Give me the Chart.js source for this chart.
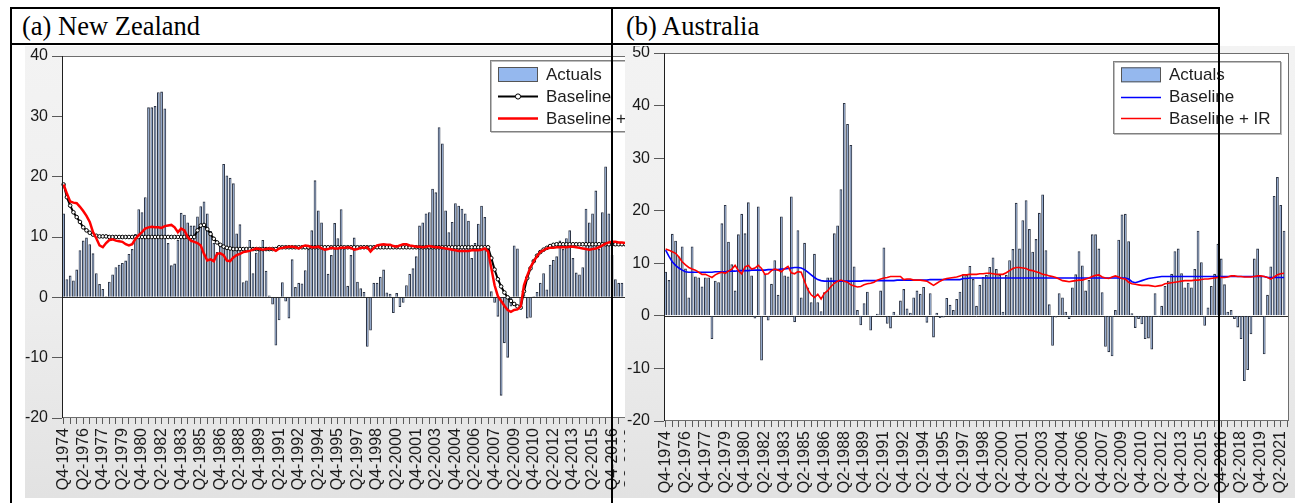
<!DOCTYPE html>
<html>
<head>
<meta charset="utf-8">
<script src="https://cdn.jsdelivr.net/npm/chart.js@4.4.1/dist/chart.umd.min.js"></script>
<style>
  html, body { margin: 0; padding: 0; background: #fff; }
  #page { position: relative; width: 1295px; height: 503px; overflow: hidden; background: #fff; }
  .panel { position: absolute; top: 46px; height: 452px;
           background: linear-gradient(to bottom, #f3f3f3 0%, #eeeeee 55%, #e2e2e2 100%); }
  .panel canvas { display: block; }
  #nzPanel { left: 25px; width: 680px; z-index: 1; }
  #auPanel { left: 625px; width: 670px; z-index: 2; }
  .rule { position: absolute; background: #000; z-index: 5; }
  .head { position: absolute; top: 11px; font-family: 'Liberation Serif', 'Times New Roman', serif;
          font-size: 26.5px; line-height: 30px; color: #000; z-index: 5; white-space: nowrap; }
</style>
</head>
<body>
<div id="page">
  <div class="panel" id="nzPanel"><canvas id="nzChart"></canvas></div>
  <div class="panel" id="auPanel"><canvas id="auChart"></canvas></div>

  <div class="rule" style="left:10px; top:7px; width:1210px; height:2px;"></div>
  <div class="rule" style="left:10px; top:43px; width:1210px; height:2px;"></div>
  <div class="rule" style="left:10px; top:7px; width:2px; height:496px;"></div>
  <div class="rule" style="left:611px; top:7px; width:2px; height:496px;"></div>
  <div class="rule" style="left:1218px; top:7px; width:2px; height:496px;"></div>

  <div class="head" style="left:22px;">(a) New Zealand</div>
  <div class="head" style="left:626px;">(b) Australia</div>
</div>

<script>
// ---- Quarterly categories -------------------------------------------------
function quarterLabels(startYear, startQuarter, count) {
  const out = [];
  let y = startYear, q = startQuarter;
  for (let i = 0; i < count; i++) {
    out.push('Q' + q + '-' + y);
    q++;
    if (q > 4) { q = 1; y++; }
  }
  return out;
}
const NZ_QUARTERS = quarterLabels(1974, 4, 185);   // Q4-1974 .. Q4-2020
const AU_QUARTERS = quarterLabels(1974, 4, 189);   // Q4-1974 .. Q4-2021

// ---- New Zealand (annualised %, quarterly) --------------------------------
const NZ_ACTUAL = [
  13.9, 3.0, 3.6, 2.8, 4.6, 7.8, 9.4, 9.9, 8.8, 7.3,
  4.0, 2.2, 1.4, 0.2, 2.6, 3.8, 5.0, 5.4, 5.7, 6.1,
  7.2, 8.0, 10.5, 14.6, 14.1, 16.6, 31.5, 31.5, 31.7, 34.0,
  34.1, 31.3, 9.0, 5.3, 5.6, 9.5, 14.0, 13.7, 12.4, 11.9,
  11.9, 13.4, 15.1, 15.9, 13.9, 11.0, 9.0, 7.5, 8.5, 22.1,
  20.2, 19.8, 18.9, 10.6, 12.1, 2.5, 2.8, 9.5, 4.0, 7.4,
  8.0, 9.5, 4.4, 0.3, -1.2, -8.0, -3.8, 2.5, -0.7, -3.5,
  6.3, 1.7, 2.4, 2.3, 4.5, 8.0, 11.1, 19.4, 14.4, 12.4,
  8.0, 3.9, 7.0, 12.3, 9.8, 14.6, 8.5, 1.9, 7.0, 9.9,
  2.6, 1.5, 0.9, -8.2, -5.5, 2.4, 2.4, 3.4, 4.6, 0.8,
  0.6, -2.6, 0.7, -1.6, -0.9, 2.0, 3.9, 4.8, 6.8, 11.9,
  12.4, 13.9, 14.1, 18.0, 17.4, 28.2, 25.5, 14.4, 10.8, 12.5,
  15.6, 15.2, 14.7, 13.9, 12.7, 6.5, 9.0, 12.2, 15.2, 13.3,
  8.0, 1.0, -0.9, -3.2, -16.3, -7.6, -10.0, -1.5, 8.6, 8.1,
  -1.6, 0.5, -3.5, -3.4, 0.2, 0.9, 2.4, 4.0, 1.3, 5.4,
  6.2, 6.8, 9.4, 8.0, 9.8, 11.1, 6.5, 4.1, 3.8, 5.0,
  14.7, 12.4, 13.9, 17.7, 8.0, 14.1, 21.7, 13.9, 7.0, 3.0,
  2.4, 2.4
];
const NZ_BASELINE = [
  18.7, 16.6, 15.2, 14.1, 13.3, 12.5, 11.6, 11.1, 10.7, 10.4,
  10.2, 10.1, 10.1, 10.1, 10.0, 10.0, 10.0, 10.0, 10.0, 10.0,
  10.0, 10.0, 10.0, 10.0, 10.0, 10.0, 10.0, 10.0, 10.0, 10.0,
  10.0, 10.0, 10.0, 10.0, 10.0, 10.0, 10.0, 10.0, 10.0, 10.0,
  10.0, 11.1, 11.9, 12.0, 11.3, 10.5, 9.7, 9.1, 8.7, 8.4,
  8.2, 8.1, 8.0, 8.0, 8.0, 8.0, 8.0, 8.0, 8.0, 8.0,
  8.0, 8.0, 8.0, 8.0, 8.0, 8.0, 8.3, 8.3, 8.3, 8.3,
  8.3, 8.3, 8.3, 8.3, 8.3, 8.3, 8.3, 8.3, 8.3, 8.3,
  8.3, 8.3, 8.3, 8.3, 8.3, 8.3, 8.3, 8.3, 8.3, 8.3,
  8.3, 8.3, 8.3, 8.3, 8.3, 8.3, 8.3, 8.3, 8.3, 8.3,
  8.3, 8.3, 8.3, 8.3, 8.3, 8.3, 8.3, 8.3, 8.3, 8.3,
  8.3, 8.3, 8.3, 8.3, 8.3, 8.3, 8.3, 8.3, 8.3, 8.3,
  8.3, 8.3, 8.3, 8.3, 8.3, 8.3, 8.3, 8.3, 8.3, 8.3,
  8.3, 6.5, 4.6, 3.0, 1.8, 0.8, 0.0, -0.6, -1.1, -1.5,
  -1.7, 1.0, 3.2, 4.8, 6.0, 6.9, 7.5, 7.9, 8.2, 8.5,
  8.7, 8.8, 8.8, 8.8, 8.8, 8.8, 8.8, 8.8, 8.8, 8.8,
  8.8, 8.8, 8.8, 8.8, 8.8, 8.8, 8.8, 8.8, 8.8, 8.8,
  8.8, 8.8, 8.8
];
const NZ_BASELINE_IR = [
  18.7, 17.2, 15.9, 15.7, 15.6, 15.0, 14.3, 13.5, 12.5, 10.8,
  9.8, 8.6, 8.3, 9.0, 9.5, 9.6, 9.4, 9.3, 9.2, 8.8,
  8.6, 8.8, 9.7, 10.3, 10.8, 11.4, 11.6, 11.7, 11.6, 11.6,
  11.5, 11.8, 11.9, 12.0, 11.6, 10.8, 11.4, 11.1, 10.0, 9.4,
  9.2, 9.0, 8.6, 7.2, 6.1, 6.3, 6.0, 7.2, 7.3, 7.0,
  6.1, 6.0, 6.6, 7.0, 7.2, 7.5, 7.6, 7.7, 7.9, 8.1,
  8.0, 7.9, 8.0, 8.1, 8.0, 7.7, 8.1, 8.2, 8.3, 8.4,
  8.4, 8.3, 8.1, 8.4, 8.6, 8.5, 8.3, 8.3, 8.4, 8.1,
  7.9, 8.0, 8.2, 8.1, 8.1, 8.2, 8.2, 8.3, 8.2, 7.9,
  8.0, 8.2, 8.2, 8.3, 7.6, 8.2, 8.6, 8.7, 8.8, 8.7,
  8.7, 8.5, 8.4, 8.6, 8.8, 8.8, 8.6, 8.5, 8.4, 8.4,
  8.3, 8.4, 8.5, 8.4, 8.3, 8.3, 8.2, 8.1, 8.0, 7.9,
  7.8, 7.7, 7.7, 7.7, 7.7, 7.8, 7.8, 7.8, 7.9, 8.1,
  7.6, 4.8, 2.0, 0.2, -0.6, -1.4, -2.1, -2.4, -2.1, -2.0,
  -1.5, 2.0, 3.6, 5.0, 6.0, 6.8, 7.5, 7.8, 8.1, 8.2,
  8.2, 8.3, 8.3, 8.3, 8.3, 8.4, 8.4, 8.3, 8.2, 8.1,
  8.0, 7.9, 8.0, 8.1, 8.3, 8.6, 8.9, 9.1, 9.2, 9.2,
  9.1, 9.1, 9.0
];

// ---- Australia (annualised %, quarterly) ----------------------------------
const AU_ACTUAL = [
  8.4, 6.8, 15.6, 14.3, 11.3, 13.2, 9.0, 3.5, 13.2, 7.5,
  7.3, 5.6, 7.3, 7.3, -4.4, 6.7, 6.4, 17.6, 21.1, 14.1,
  9.8, 4.8, 15.5, 19.4, 15.7, 21.6, 7.7, -0.5, 20.8, -8.5,
  8.0, -0.9, 6.1, 10.6, 4.0, 18.9, 7.7, 7.5, 22.7, -1.2,
  16.3, 3.5, 13.9, 5.4, 2.6, 11.8, 2.6, 0.9, 4.5, 7.3,
  7.3, 15.7, 17.2, 24.1, 40.5, 36.5, 32.5, 9.4, 1.1, -1.8,
  2.4, 4.6, -2.8, -0.2, 0.4, 4.8, 13.0, -1.5, -2.4, 0.8,
  0.2, 2.9, 5.1, 1.4, 0.6, 3.5, 4.8, 4.2, 5.5, -1.3,
  4.3, -4.1, 0.6, -0.4, -0.3, 3.4, 2.1, 1.1, 3.2, 4.6,
  7.9, 7.8, 9.5, 7.0, 1.9, 5.9, 7.4, 7.8, 9.3, 11.1,
  8.9, 7.8, 0.8, 7.8, 10.6, 12.7, 21.5, 12.8, 18.2, 22.0,
  16.5, 12.2, 14.6, 19.6, 23.1, 12.5, 2.2, -5.7, -0.3, 4.3,
  3.5, 0.8, -0.6, 5.4, 7.9, 12.3, 9.6, 4.8, 6.8, 15.5,
  15.5, 12.8, 4.5, -5.9, -6.9, -7.7, 1.1, 14.5, 19.3, 19.4,
  14.2, 0.5, -2.3, -0.6, -1.6, -4.4, -4.3, -6.4, 4.3, -0.2,
  1.9, 5.7, 6.7, 8.0, 12.3, 12.8, 8.1, 5.4, 6.3, 5.4,
  8.9, 16.2, 10.2, -1.9, 1.6, 5.7, 8.0, 13.7, 10.9, 6.0,
  0.8, 1.1, -0.6, -2.2, -4.4, -12.4, -10.3, -3.5, 10.9, 12.8,
  7.6, -7.3, 4.0, 9.4, 22.8, 26.4, 21.1, 16.2
];
const AU_BASELINE = [
  12.5, 11.3, 10.3, 9.6, 9.1, 8.7, 8.4, 8.3, 8.3, 8.3,
  8.3, 8.3, 8.3, 8.3, 8.3, 8.4, 8.4, 8.4, 8.4, 8.5,
  8.5, 8.5, 8.6, 8.6, 8.6, 8.6, 8.7, 8.7, 8.7, 8.7,
  8.7, 8.8, 8.8, 8.8, 8.8, 8.9, 8.9, 9.0, 9.1, 9.2,
  9.2, 9.1, 8.8, 8.3, 7.8, 7.3, 6.9, 6.7, 6.6, 6.6,
  6.6, 6.6, 6.6, 6.6, 6.6, 6.6, 6.6, 6.6, 6.6, 6.6,
  6.7, 6.7, 6.7, 6.7, 6.7, 6.7, 6.7, 6.7, 6.7, 6.7,
  6.8, 6.8, 6.8, 6.8, 6.8, 6.8, 6.8, 6.8, 6.8, 6.8,
  6.9, 6.9, 6.9, 6.9, 6.9, 6.9, 6.9, 6.9, 6.9, 6.9,
  7.1, 7.1, 7.2, 7.2, 7.2, 7.2, 7.2, 7.2, 7.2, 7.2,
  7.2, 7.2, 7.2, 7.2, 7.2, 7.2, 7.2, 7.2, 7.2, 7.2,
  7.2, 7.2, 7.2, 7.2, 7.2, 7.2, 7.2, 7.2, 7.2, 7.2,
  7.2, 7.2, 7.2, 7.2, 7.2, 7.2, 7.2, 7.2, 7.2, 7.2,
  7.2, 7.2, 7.2, 7.2, 7.2, 7.2, 7.2, 7.2, 7.2, 7.2,
  7.0, 6.5, 6.3, 6.5, 6.7, 6.9, 7.1, 7.2, 7.3, 7.4,
  7.5, 7.5, 7.5, 7.5, 7.5, 7.5, 7.5, 7.5, 7.5, 7.5,
  7.5, 7.5, 7.5, 7.5, 7.5, 7.5, 7.5, 7.5, 7.5, 7.5,
  7.5, 7.5, 7.5, 7.5, 7.5, 7.5, 7.5, 7.5, 7.5, 7.5,
  7.5, 7.5, 7.3, 7.3, 7.3, 7.3, 7.3, 7.3
];
const AU_BASELINE_IR = [
  12.7, 12.5, 12.2, 11.9, 11.2, 10.3, 9.7, 9.2, 8.9, 8.7,
  8.3, 7.9, 7.9, 7.6, 7.3, 7.8, 8.1, 8.3, 8.1, 8.5,
  8.9, 9.6, 8.6, 8.0, 9.3, 9.6, 8.9, 9.1, 9.6, 9.0,
  7.9, 8.0, 8.6, 8.9, 8.7, 8.4, 9.0, 9.4, 8.2, 8.0,
  8.4, 8.3, 6.6, 5.0, 4.0, 3.5, 4.1, 3.2, 4.3, 4.8,
  5.6, 6.2, 6.6, 6.8, 6.6, 6.4, 5.9, 5.7, 5.5, 5.6,
  5.9, 6.1, 6.2, 6.4, 6.8, 7.0, 7.2, 7.3, 7.5, 7.5,
  7.5, 7.5, 6.9, 7.0, 7.0, 6.8, 6.8, 6.8, 6.7, 6.6,
  6.2, 5.8, 6.2, 6.6, 6.9, 7.1, 7.2, 7.3, 7.4, 7.6,
  7.8, 7.8, 7.9, 7.9, 7.9, 8.0, 8.0, 8.1, 8.1, 8.0,
  7.9, 7.9, 7.9, 8.2, 8.6, 9.0, 9.2, 9.2, 9.1, 9.0,
  8.7, 8.6, 8.4, 8.2, 7.9, 7.8, 7.6, 7.5, 7.3, 7.0,
  6.7, 6.6, 6.5, 6.6, 6.7, 6.8, 6.8, 7.0, 7.2, 7.5,
  7.7, 7.8, 7.4, 7.2, 7.1, 7.4, 7.6, 7.4, 7.1, 7.0,
  6.4, 6.1, 6.0, 5.9, 5.8, 5.8, 5.8, 5.7, 5.6, 5.7,
  5.8, 6.1, 6.2, 6.3, 6.4, 6.5, 6.6, 6.7, 6.7, 6.7,
  6.8, 6.8, 6.9, 7.0, 7.0, 7.1, 7.2, 7.3, 7.3, 7.3,
  7.4, 7.6, 7.6, 7.5, 7.5, 7.4, 7.4, 7.4, 7.5, 7.6,
  7.6, 7.5, 7.3, 7.0, 7.4, 7.8, 8.0, 8.1
];

// ---- Shared styling --------------------------------------------------------
const BAR_FILL = '#85a8e0';
const BAR_EDGE = '#2e3646';
const TICK_TEXT = '#1a1a1a';
Chart.defaults.font.family = "'Liberation Sans', Arial, sans-serif";
Chart.defaults.color = TICK_TEXT;

// White plot area, zero line, plot frame and an in-plot legend box.
const panelDecor = {
  id: 'panelDecor',
  beforeDraw(chart) {
    const { ctx, chartArea: a } = chart;
    ctx.save();
    ctx.fillStyle = '#ffffff';
    ctx.fillRect(a.left, a.top, a.right - a.left, a.bottom - a.top);
    ctx.restore();
  },
  beforeDatasetsDraw(chart) {
    const { ctx, chartArea: a, scales } = chart;
    const y0 = Math.round(scales.y.getPixelForValue(0)) + 0.5;
    ctx.save();
    ctx.strokeStyle = '#2a2a2a';
    ctx.lineWidth = 1;
    ctx.beginPath();
    ctx.moveTo(a.left, y0);
    ctx.lineTo(a.right, y0);
    ctx.stroke();
    ctx.restore();
  },
  afterDraw(chart, args, opts) {
    const { ctx, chartArea: a } = chart;
    ctx.save();
    ctx.lineWidth = 1;
    ctx.strokeStyle = '#6e6e6e';
    ctx.strokeRect(Math.round(a.left) + 0.5, Math.round(a.top) + 0.5,
                   Math.round(a.right - a.left) - 1, Math.round(a.bottom - a.top) - 1);
    ctx.strokeStyle = '#1e1e1e';
    ctx.beginPath();
    ctx.moveTo(Math.round(a.left) + 0.5, a.top);
    ctx.lineTo(Math.round(a.left) + 0.5, a.bottom);
    ctx.stroke();

    const L = opts.legend;
    if (L) {
      ctx.fillStyle = '#ffffff';
      ctx.fillRect(L.x, L.y, L.w, L.h);
      ctx.strokeStyle = '#bdbdbd';
      ctx.strokeRect(L.x + 1.5, L.y + 1.5, L.w - 2, L.h - 2);
      ctx.strokeStyle = '#808080';
      ctx.strokeRect(L.x + 0.5, L.y + 0.5, L.w - 2, L.h - 2);
      ctx.font = L.fontSize + "px 'Liberation Sans', Arial, sans-serif";
      ctx.textBaseline = 'middle';
      chart.data.datasets.forEach((ds, k) => {
        const cy = L.y + L.rowTop + k * L.rowGap;
        const sx = L.x + 8, sw = 40;
        if (ds.type === 'bar') {
          ctx.fillStyle = '#95b8ee';
          ctx.fillRect(sx, cy - 7.5, sw, 15);
          ctx.strokeStyle = '#555555';
          ctx.lineWidth = 1;
          ctx.strokeRect(sx + 0.5, cy - 7, sw - 1, 14);
        } else {
          ctx.strokeStyle = ds.borderColor;
          ctx.lineWidth = ds.borderWidth;
          ctx.beginPath();
          ctx.moveTo(sx, Math.round(cy) + 0.5);
          ctx.lineTo(sx + sw, Math.round(cy) + 0.5);
          ctx.stroke();
          if (ds.pointRadius > 0) {
            ctx.lineWidth = 1;
            ctx.fillStyle = ds.pointBackgroundColor;
            ctx.strokeStyle = ds.pointBorderColor;
            ctx.beginPath();
            ctx.arc(sx + sw / 2, Math.round(cy) + 0.5, 2.6, 0, Math.PI * 2);
            ctx.fill();
            ctx.stroke();
          }
        }
        ctx.fillStyle = '#1e1e1e';
        ctx.fillText(ds.label, L.x + 56, cy + 1);
      });
    }
    ctx.restore();
  }
};

function axes(yMin, yMax, yWidth, xHeight) {
  return {
    x: {
      type: 'category',
      offset: true,
      border: { display: false },
      grid: {
        display: true, drawOnChartArea: false, drawTicks: true, offset: false,
        tickLength: 6, tickWidth: 1,
        tickColor: c => (c.index % 2 === 0 ? '#5a5a5a' : 'rgba(0,0,0,0)')
      },
      ticks: {
        autoSkip: false, minRotation: 90, maxRotation: 90, padding: 4,
        color: TICK_TEXT, font: { size: 16 },
        callback: function (v, i) { return i % 6 === 0 ? this.getLabelForValue(v) : ''; }
      },
      afterFit: s => { s.height = xHeight; s.paddingLeft = 0; s.paddingRight = 0; }
    },
    y: {
      min: yMin, max: yMax,
      border: { display: false },
      grid: { display: true, drawOnChartArea: false, drawTicks: true, tickLength: 10, tickColor: '#5a5a5a' },
      ticks: { stepSize: 10, padding: 4, color: TICK_TEXT, font: { size: 16 } },
      afterFit: s => { s.width = yWidth; s.paddingTop = 0; s.paddingBottom = 0; }
    }
  };
}

function barSet(values) {
  return {
    type: 'bar', label: 'Actuals', data: values,
    backgroundColor: BAR_FILL, borderColor: BAR_EDGE, borderWidth: 1.1,
    barPercentage: 0.84, categoryPercentage: 1.0, order: 3
  };
}

// ---- (a) New Zealand -------------------------------------------------------
new Chart(document.getElementById('nzChart'), {
  data: {
    labels: NZ_QUARTERS,
    datasets: [
      barSet(NZ_ACTUAL),
      { type: 'line', label: 'Baseline', data: NZ_BASELINE, borderColor: '#000000', borderWidth: 2,
        pointRadius: 1.8, pointBorderWidth: 1, pointBackgroundColor: '#ffffff', pointBorderColor: '#000000',
        tension: 0, order: 2 },
      { type: 'line', label: 'Baseline + IR', data: NZ_BASELINE_IR, borderColor: '#ff0000', borderWidth: 2.5,
        pointRadius: 0, tension: 0, order: 1 }
    ]
  },
  options: {
    responsive: true, maintainAspectRatio: false, devicePixelRatio: 1,
    animation: false, events: [],
    layout: { autoPadding: false, padding: { top: 10, right: 39, bottom: 2, left: 0 } },
    scales: axes(-20, 40, 37, 78),
    plugins: {
      legend: { display: false }, tooltip: { enabled: false },
      panelDecor: { legend: { x: 465, y: 14, w: 169, h: 73, rowTop: 14.5, rowGap: 21.8, fontSize: 17 } }
    }
  },
  plugins: [panelDecor]
});

// ---- (b) Australia ---------------------------------------------------------
new Chart(document.getElementById('auChart'), {
  data: {
    labels: AU_QUARTERS,
    datasets: [
      barSet(AU_ACTUAL),
      { type: 'line', label: 'Baseline', data: AU_BASELINE, borderColor: '#0000ff', borderWidth: 1.6,
        pointRadius: 0, tension: 0, order: 2 },
      { type: 'line', label: 'Baseline + IR', data: AU_BASELINE_IR, borderColor: '#ff0000', borderWidth: 1.6,
        pointRadius: 0, tension: 0, order: 1 }
    ]
  },
  options: {
    responsive: true, maintainAspectRatio: false, devicePixelRatio: 1,
    animation: false, events: [],
    layout: { autoPadding: false, padding: { top: 7, right: 6, bottom: 2, left: 0 } },
    scales: axes(-20, 50, 39, 75),
    plugins: {
      legend: { display: false }, tooltip: { enabled: false },
      panelDecor: { legend: { x: 488, y: 15, w: 169, h: 74, rowTop: 13.8, rowGap: 21.8, fontSize: 17 } }
    }
  },
  plugins: [panelDecor]
});
</script>
</body>
</html>
